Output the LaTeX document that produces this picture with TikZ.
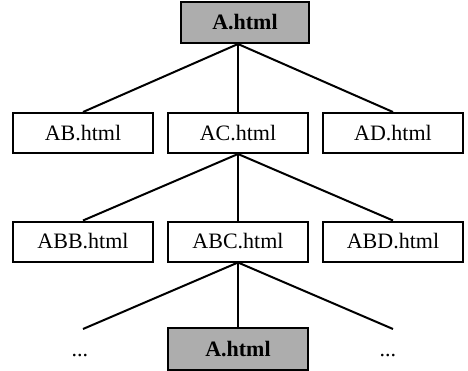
\documentclass[tikz,border=0pt]{standalone}
\usepackage{fontspec}
\setmainfont{Liberation Serif}
\usepackage{tikz}
\tikzstyle{page} = [rectangle, draw=black, line width=1pt, minimum width=70pt, minimum height=20pt, inner sep=0pt, text centered, font=\fontsize{11}{13}\selectfont]
\tikzstyle{home} = [page, fill=black!32, font=\fontsize{11}{13}\selectfont\bfseries]
\tikzstyle{link} = [line width=1pt]
\tikzstyle{more} = [inner sep=0pt, font=\fontsize{11}{13}\selectfont]

\begin{document}
\begin{tikzpicture}[x=0.5pt, y=-0.5pt]
\useasboundingbox (0,0) rectangle (468,371);
\node[home, minimum width=64pt, minimum height=20.5pt] (A) at (245,22.5) {A.html};
\node[page] (AB) at (83,133) {AB.html};
\node[page] (AC) at (238,133) {AC.html};
\node[page] (AD) at (393,133) {AD.html};
\node[page] (ABB) at (83,241.5) {ABB.html};
\node[page] (ABC) at (238,241.5) {ABC.html};
\node[page] (ABD) at (393,241.5) {ABD.html};
\node[home, minimum height=21pt] (Aback) at (238,349) {A.html};
\coordinate (leftEnd) at (83,329);
\coordinate (rightEnd) at (393,329);
\node[more] (dotsL) at (80,356) {...};
\node[more] (dotsR) at (388,356) {...};
\draw[link] (A.south -| AC.north) -- (AB.north);
\draw[link] (A.south -| AC.north) -- (AC.north);
\draw[link] (A.south -| AC.north) -- (AD.north);
\draw[link] (AC.south) -- (ABB.north);
\draw[link] (AC.south) -- (ABC.north);
\draw[link] (AC.south) -- (ABD.north);
\draw[link] (ABC.south) -- (leftEnd);
\draw[link] (ABC.south) -- (Aback.north);
\draw[link] (ABC.south) -- (rightEnd);
\end{tikzpicture}
\end{document}
